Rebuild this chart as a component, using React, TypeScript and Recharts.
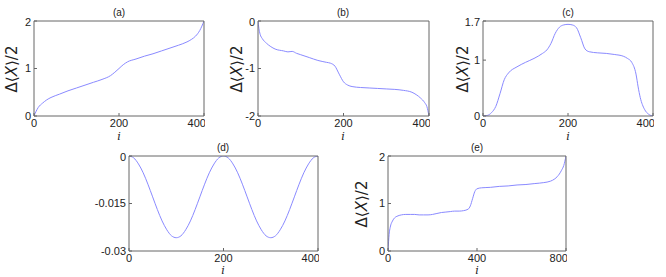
import React from "react";
import { LineChart, Line, XAxis, YAxis } from "recharts";

// Curves, one pair of arrays per panel
const aI = [0, 5, 10, 20, 30, 40, 60, 80, 100, 120, 140, 160, 180, 190, 200, 210, 220, 240, 260, 280, 300, 320, 340, 360, 370, 380, 390, 400];
const aVal = [0, 0.1, 0.18, 0.27, 0.34, 0.39, 0.46, 0.53, 0.59, 0.65, 0.71, 0.77, 0.85, 0.92, 1.0, 1.08, 1.14, 1.2, 1.26, 1.31, 1.37, 1.43, 1.49, 1.56, 1.61, 1.68, 1.8, 2.0];

const bI = [0, 2, 5, 10, 20, 30, 40, 60, 70, 80, 90, 100, 120, 140, 160, 170, 180, 190, 200, 210, 220, 240, 260, 280, 300, 320, 340, 360, 370, 380, 390, 395, 400];
const bVal = [0, -0.15, -0.28, -0.37, -0.47, -0.54, -0.59, -0.63, -0.65, -0.64, -0.68, -0.71, -0.77, -0.83, -0.87, -0.89, -0.95, -1.12, -1.28, -1.35, -1.38, -1.4, -1.41, -1.42, -1.43, -1.44, -1.46, -1.5, -1.55, -1.62, -1.72, -1.8, -2.0];

const cI = [0, 10, 20, 30, 40, 50, 60, 80, 100, 120, 140, 150, 160, 170, 180, 190, 200, 210, 220, 230, 240, 250, 270, 290, 310, 330, 340, 350, 360, 365, 370, 380, 390, 400];
const cVal = [0, 0.01, 0.06, 0.17, 0.4, 0.65, 0.77, 0.88, 0.96, 1.03, 1.12, 1.18, 1.3, 1.48, 1.59, 1.63, 1.64, 1.63, 1.58, 1.4, 1.2, 1.15, 1.13, 1.12, 1.1, 1.07, 1.03, 0.96, 0.75, 0.52, 0.33, 0.12, 0.03, 0];

const dI = [0, 10, 20, 30, 40, 50, 60, 70, 80, 90, 100, 110, 120, 130, 140, 150, 160, 170, 180, 190, 200, 210, 220, 230, 240, 250, 260, 270, 280, 290, 300, 310, 320, 330, 340, 350, 360, 370, 380, 390, 400];
const dVal = [0, -0.0006, -0.0025, -0.0053, -0.0089, -0.0129, -0.0169, -0.0205, -0.0233, -0.0252, -0.0258, -0.0252, -0.0233, -0.0205, -0.0169, -0.0129, -0.0089, -0.0053, -0.0025, -0.0006, 0, -0.0006, -0.0025, -0.0053, -0.0089, -0.0129, -0.0169, -0.0205, -0.0233, -0.0252, -0.0258, -0.0252, -0.0233, -0.0205, -0.0169, -0.0129, -0.0089, -0.0053, -0.0025, -0.0006, 0];

const eI = [0, 5, 10, 20, 30, 40, 60, 80, 100, 120, 140, 160, 180, 200, 220, 240, 260, 280, 300, 320, 340, 360, 370, 380, 390, 400, 420, 460, 500, 540, 580, 620, 660, 700, 730, 750, 770, 780, 790, 800];
const eVal = [0, 0.35, 0.5, 0.63, 0.7, 0.73, 0.76, 0.77, 0.77, 0.77, 0.76, 0.76, 0.76, 0.77, 0.79, 0.81, 0.82, 0.83, 0.84, 0.84, 0.85, 0.88, 0.95, 1.1, 1.25, 1.31, 1.33, 1.34, 1.36, 1.37, 1.39, 1.4, 1.42, 1.44, 1.47, 1.52, 1.62, 1.7, 1.8, 2.0];

const ticks400 = [0, 200, 400];
const ticks800 = [0, 400, 800];

const AXIS = "#666";
const TXT = "#222";
const LINE = "#8a8aff";

const zip = (is: number[], vs: number[]) => is.map((i, k) => ({ i, v: vs[k] }));

interface PanelProps {
    data: { i: number; v: number }[];
    x: number; y: number; w: number; h: number; yw: number;
    xDomain: [number, number]; xTicks: number[];
    yDomain: [number, number]; yTicks: number[];
}

function Panel({ data, x, y, w, h, yw, xDomain, xTicks, yDomain, yTicks }: PanelProps) {
    const mt = 4;
    const xb = 20;
    return (
        <div style={{ position: "absolute", left: x - yw, top: y - mt - 1 }}>
            <LineChart width={yw + w + 1} height={mt + 1 + h + xb} data={data} margin={{ top: mt, right: 0, bottom: 0, left: 0 }}>
                <XAxis dataKey="i" type="number" domain={xDomain} ticks={xTicks} allowDataOverflow height={xb}
                    stroke={AXIS} tickSize={-3} tickMargin={6} tick={{ fill: TXT, fontSize: 11 }} />
                <XAxis xAxisId="top" orientation="top" dataKey="i" type="number" domain={xDomain} ticks={xTicks} allowDataOverflow
                    height={1} stroke={AXIS} tickSize={-3} tick={false} />
                <YAxis type="number" domain={yDomain} ticks={yTicks} allowDataOverflow width={yw}
                    stroke={AXIS} tickSize={-3} tickMargin={6} tick={{ fill: TXT, fontSize: 11 }} />
                <YAxis yAxisId="r" orientation="right" type="number" domain={yDomain} ticks={yTicks} allowDataOverflow
                    width={1} stroke={AXIS} tickSize={-3} tick={false} />
                <Line type="monotone" dataKey="v" dot={false} stroke={LINE} strokeWidth={1} isAnimationActive={false} />
            </LineChart>
        </div>
    );
}

const titleStyle: React.CSSProperties = { position: "absolute", fontSize: 10, transform: "translate(-50%, -50%)", color: TXT, whiteSpace: "nowrap" };
const iStyle: React.CSSProperties = { position: "absolute", fontSize: 11, lineHeight: "11px", fontStyle: "italic", fontFamily: "'DejaVu Serif', serif", transform: "translate(-50%, -50%)", color: TXT };
const yLabStyle: React.CSSProperties = { position: "absolute", fontSize: 15, fontFamily: "'DejaVu Sans', sans-serif", transform: "translate(-50%, -50%) rotate(-90deg)", color: TXT, whiteSpace: "nowrap" };

function Labels({ name, cx, top, bottom, iy, ylx }: { name: string; cx: number; top: number; bottom: number; iy: number; ylx?: number }) {
    return (
        <>
            <div style={{ ...titleStyle, left: cx, top: top - 9 }}>{name}</div>
            <div style={{ ...iStyle, left: cx, top: bottom + iy }}>i</div>
            {ylx !== undefined && (
                <div style={{ ...yLabStyle, left: ylx, top: (top + bottom) / 2 }}>Δ⟨<span style={{ fontStyle: "italic" }}>X</span>⟩/2</div>
            )}
        </>
    );
}

export default function App() {
    return (
        <div style={{ position: "absolute", left: 0, top: 0, width: 666, height: 277, background: "#fff", fontFamily: "'Liberation Sans', Arial, sans-serif" }}>
            <Panel data={zip(aI, aVal)} x={34} y={21} w={170} h={95} yw={34} xDomain={[0, 400]} xTicks={ticks400} yDomain={[0, 2]} yTicks={[0, 1, 2]} />
            <Panel data={zip(bI, bVal)} x={258} y={21} w={171} h={95} yw={30} xDomain={[0, 400]} xTicks={ticks400} yDomain={[-2, 0]} yTicks={[-2, -1, 0]} />
            <Panel data={zip(cI, cVal)} x={483} y={21} w={170} h={95} yw={30} xDomain={[0, 400]} xTicks={ticks400} yDomain={[0, 1.7]} yTicks={[0, 1, 1.7]} />
            <Panel data={zip(dI, dVal)} x={129} y={156} w={189} h={95} yw={45} xDomain={[0, 400]} xTicks={ticks400} yDomain={[-0.03, 0]} yTicks={[-0.03, -0.015, 0]} />
            <Panel data={zip(eI, eVal)} x={388} y={156} w={178} h={95} yw={30} xDomain={[0, 800]} xTicks={ticks800} yDomain={[0, 2]} yTicks={[0, 1, 2]} />
            <Labels name="(a)" cx={119} top={21} bottom={116} iy={20} ylx={12} />
            <Labels name="(b)" cx={343} top={21} bottom={116} iy={20} ylx={237} />
            <Labels name="(c)" cx={568} top={21} bottom={116} iy={20} ylx={463} />
            <Labels name="(d)" cx={223} top={156} bottom={251} iy={19} />
            <Labels name="(e)" cx={477} top={156} bottom={251} iy={19} ylx={362} />
        </div>
    );
}
